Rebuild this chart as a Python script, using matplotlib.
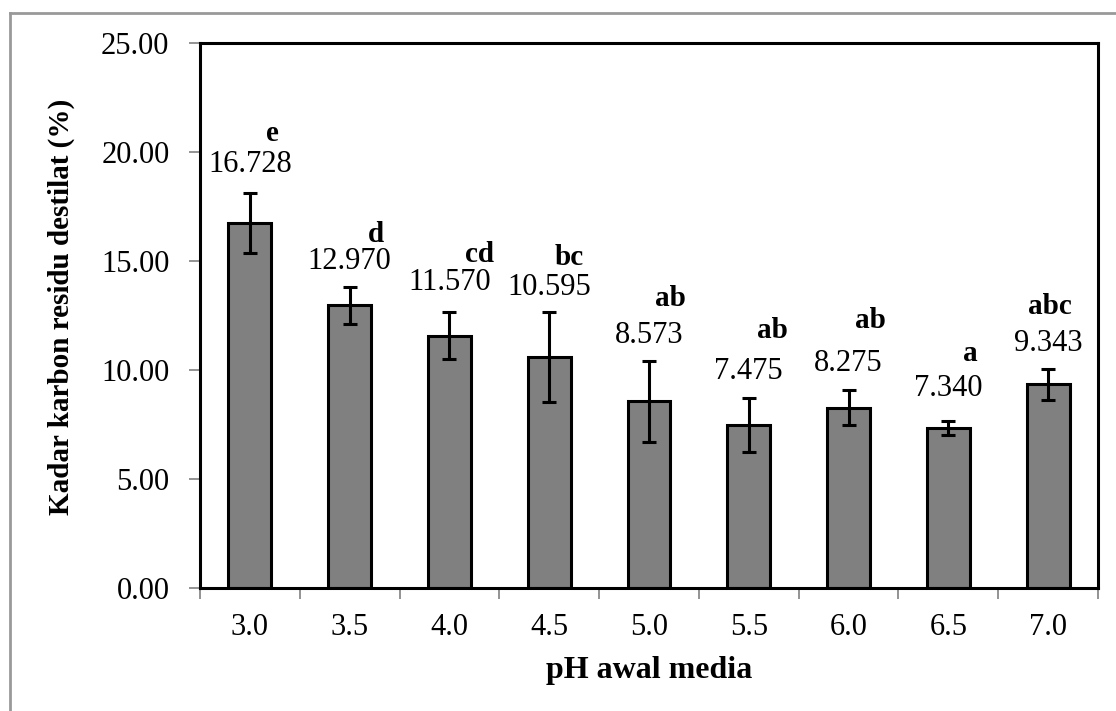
import matplotlib
matplotlib.use('Agg')
import matplotlib.pyplot as plt
import numpy as np

# data
ph_labels = ['3.0', '3.5', '4.0', '4.5', '5.0', '5.5', '6.0', '6.5', '7.0']
kadar = [16.728, 12.970, 11.570, 10.595, 8.573, 7.475, 8.275, 7.340, 9.343]
err = [1.37, 0.85, 1.07, 2.05, 1.86, 1.24, 0.80, 0.32, 0.70]
notasi = ['e', 'd', 'cd', 'bc', 'ab', 'ab', 'ab', 'a', 'abc']

# label offsets (pixels) above error bar top
val_dy = [14, 11, 15, 10, 11, 12, 12, 18, 11]
let_dx = [23, 26, 30, 20, 21, 24, 22, 22, 2]
let_dy = [46, 39, 44, 41, 49, 54, 56, 54, 49]

plt.rcParams['font.family'] = ['Liberation Serif', 'DejaVu Serif']

fig = plt.figure(figsize=(11.16, 7.11), dpi=100)
ax = fig.add_axes([200 / 1116, 1 - 588 / 711, 898 / 1116, 545 / 711])

x = np.arange(len(kadar))
ax.bar(x, kadar, width=0.43, color='#808080', edgecolor='black', linewidth=2.2, zorder=2)
ax.errorbar(x, kadar, yerr=err, fmt='none', ecolor='black', elinewidth=2.2,
            capsize=5, capthick=2.2, zorder=3)

for i in range(len(kadar)):
    top = kadar[i] + err[i]
    ax.annotate(f'{kadar[i]:.3f}', (x[i], top), xytext=(0, val_dy[i]),
                textcoords='offset pixels', ha='center', va='bottom', fontsize=22)
    ax.annotate(notasi[i], (x[i], top), xytext=(let_dx[i], let_dy[i]),
                textcoords='offset pixels', ha='center', va='bottom',
                fontsize=21, fontweight='bold')

ax.set_xlim(-0.5, len(kadar) - 0.5)
ax.set_ylim(0, 25)
ax.set_yticks(np.arange(0, 25.1, 5))
ax.set_yticklabels([f'{v:.2f}' for v in np.arange(0, 25.1, 5)])
ax.set_xticks(x)
ax.set_xticklabels(ph_labels)
ax.set_xticks(np.arange(-0.5, len(kadar), 1), minor=True)
ax.tick_params(axis='x', which='major', length=0, labelsize=22, pad=18)
ax.tick_params(axis='x', which='minor', length=8, width=1.2, color='gray', direction='out')
ax.tick_params(axis='y', length=8, width=1.2, color='gray', direction='out', labelsize=22, pad=14)

for s in ax.spines.values():
    s.set_color('black')
    s.set_linewidth(2.2)

ax.set_xlabel('pH awal media', fontsize=23, fontweight='bold', labelpad=10)
ax.set_ylabel('Kadar karbon residu destilat (%)', fontsize=21, fontweight='bold')
ax.yaxis.set_label_coords(-0.139, 0.515)

# outer chart border
fig.add_artist(plt.Line2D([10 / 1116, 10 / 1116], [0, 1 - 13 / 711], color='#999999',
                          linewidth=2, transform=fig.transFigure))
fig.add_artist(plt.Line2D([10 / 1116, 1], [1 - 13 / 711, 1 - 13 / 711], color='#999999',
                          linewidth=2, transform=fig.transFigure))

fig.savefig('out.png', dpi=100)
